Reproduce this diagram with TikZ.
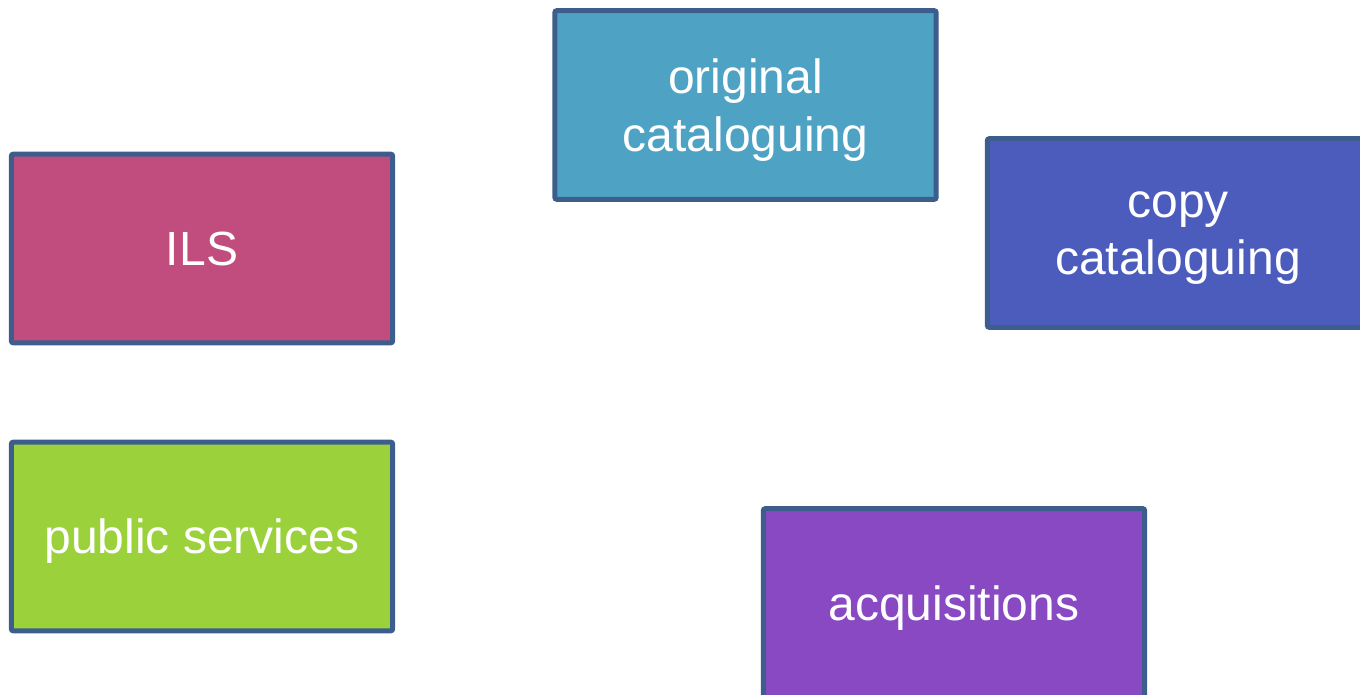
\documentclass[tikz,border=0pt]{standalone}
\usepackage{fontspec}
\setmainfont{Liberation Sans}
\definecolor{OrigTeal}{RGB}{78,163,196}
\definecolor{CopyBlue}{RGB}{76,92,189}
\definecolor{IlsRose}{RGB}{192,77,126}
\definecolor{PubGreen}{RGB}{155,210,60}
\definecolor{AcqPurple}{RGB}{136,73,194}
\definecolor{EdgeBlue}{RGB}{61,94,140}
\usepackage{tikz}
\usetikzlibrary{positioning}

\begin{document}
\begin{tikzpicture}[x=0.75pt, y=-0.75pt,
        unit/.style={draw=EdgeBlue, line width=3.75pt, rounded corners=1.5pt,
            minimum width=286pt, minimum height=141.5pt, align=center,
            text=white, font=\fontsize{36}{43}\selectfont, inner sep=0pt,
            text depth=0pt}]
        \useasboundingbox (0,0) rectangle (1360,695);
        \node[unit, fill=OrigTeal] (orig) at (745.5,105) {original\\cataloguing};
        \node[unit, fill=CopyBlue] (copy) at (1178,233) {copy\\cataloguing};
        \node[unit, fill=IlsRose] (ils) at (202,248.5) {ILS};
        \node[unit, fill=PubGreen] (pub) at (202,536.5) {public services};
        \node[unit, fill=AcqPurple] (acq) at (954,603) {acquisitions};
    \end{tikzpicture}
\end{document}
